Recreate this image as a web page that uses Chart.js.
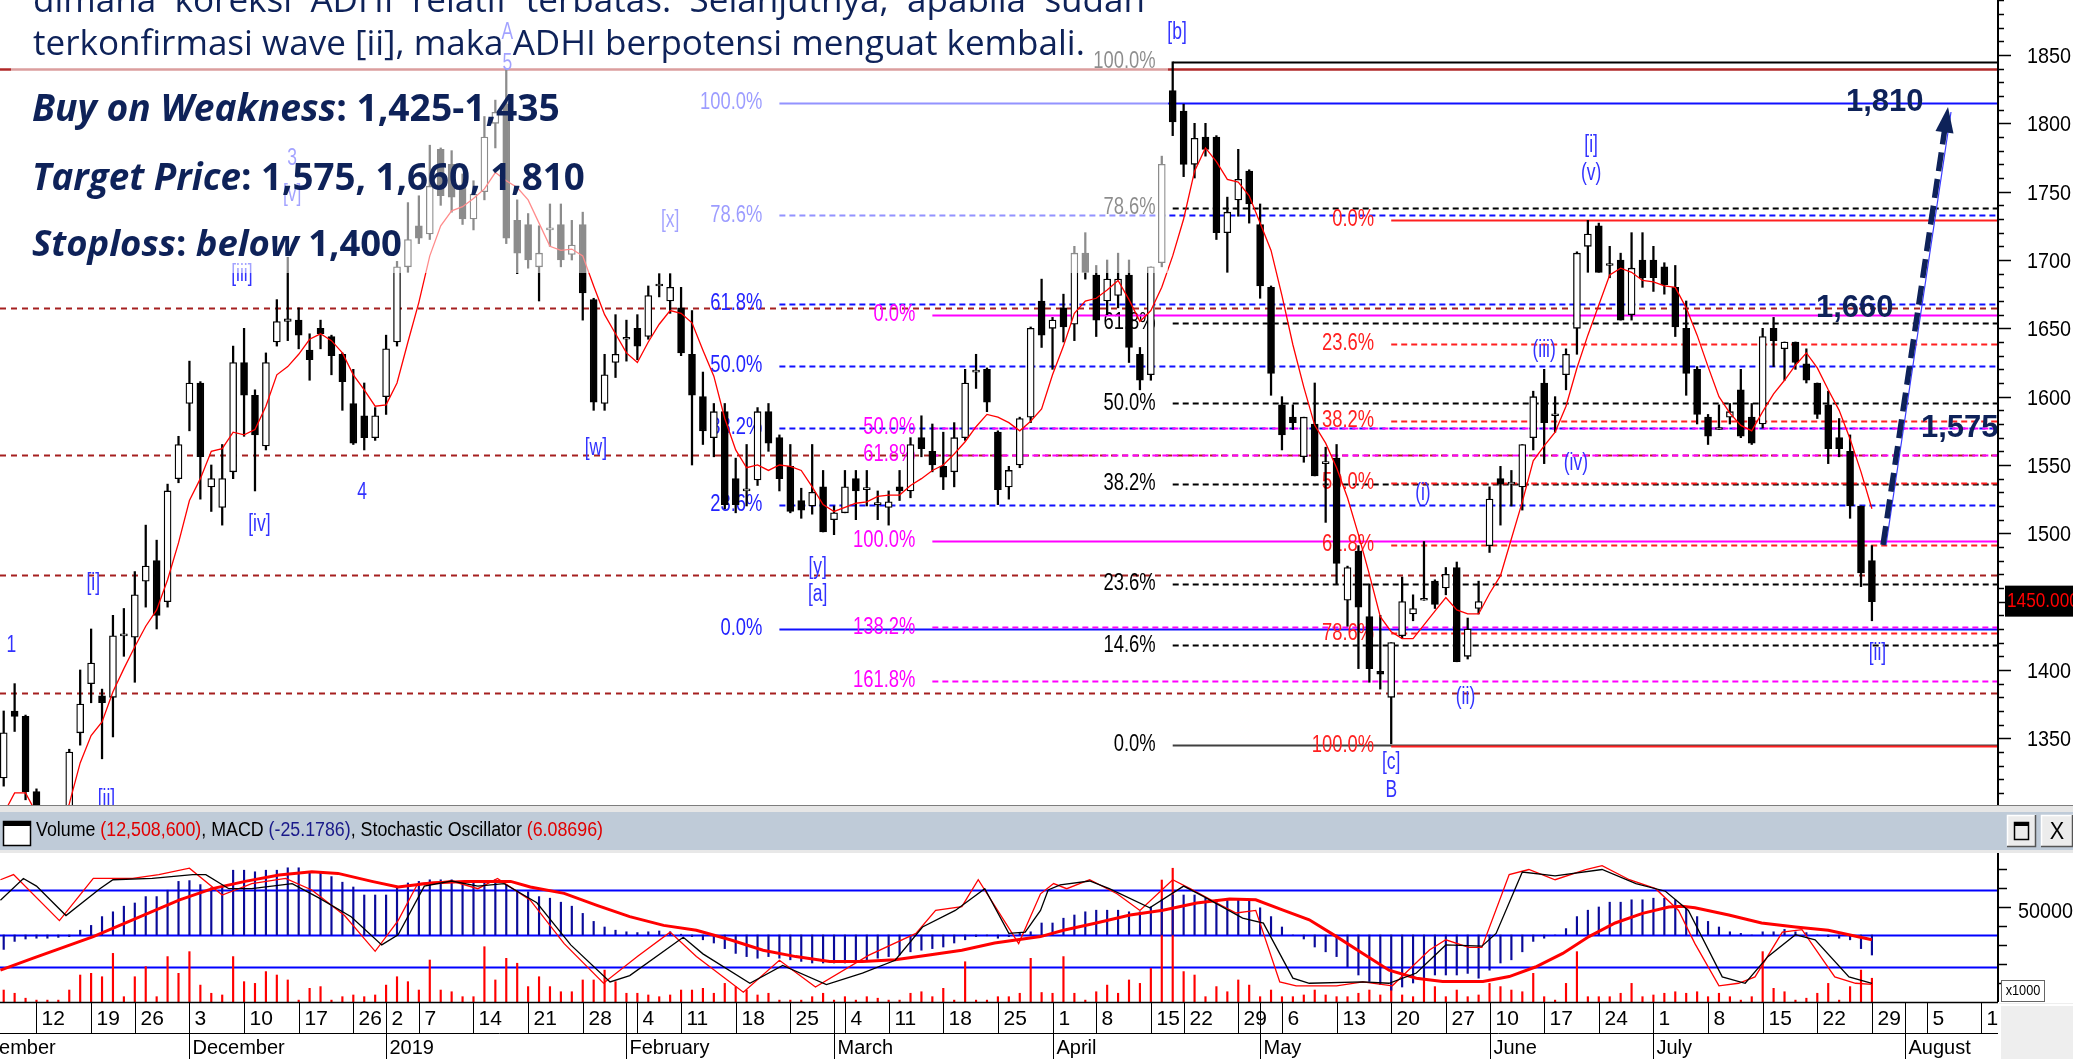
<!DOCTYPE html>
<html><head><meta charset="utf-8">
<script src="https://cdn.jsdelivr.net/npm/chart.js@4.4.1/dist/chart.umd.min.js"></script>
<style>
html,body{margin:0;padding:0;background:#fff;width:2073px;height:1059px;overflow:hidden}
#main{position:absolute;left:0;top:0}
#lower{position:absolute;left:0;top:805px}
</style></head><body>
<canvas id="main" width="2073" height="805"></canvas>
<canvas id="lower" width="2073" height="254"></canvas>
<script>
// trading-day index 0 = 7 Nov 2018 ... 171 = 29 Jul 2019
const X_MIN = -0.339, X_MAX = 182.54, AXIS_X = 1998;

const opens = [1321,1370,1366,1311,1262,1255,1285,1354,1390,1381,
1380,1425,1424,1465,1480,1450,1540,1595,1610,1534,
1519,1545,1625,1601,1564,1640,1655,1656,1634,1650,
1644,1631,1595,1586,1570,1600,1640,1695,1725,1719,
1781,1770,1755,1730,1750,1800,1814,1729,1726,1695,
1722,1726,1704,1726,1671,1595,1625,1642,1650,1644,
1681,1670,1665,1631,1600,1570,1589,1540,1531,1539,
1589,1570,1549,1524,1520,1534,1510,1515,1540,1532,
1521,1519,1534,1531,1570,1560,1549,1545,1570,1618,
1620,1574,1534,1550,1585,1670,1650,1665,1653,1705,
1689,1670,1674,1689,1631,1616,1698,1824,1809,1770,
1790,1790,1720,1744,1765,1726,1680,1594,1585,1556,
1580,1551,1555,1451,1487,1439,1399,1380,1425,1441,
1451,1465,1460,1475,1410,1445,1491,1540,1536,1534,
1570,1610,1586,1616,1650,1710,1725,1696,1700,1660,
1700,1700,1695,1680,1650,1620,1585,1576,1585,1605,
1585,1580,1650,1635,1640,1624,1610,1594,1570,1560,
1520,1480];
const highs = [1370,1390,1367,1313,1275,1290,1342,1400,1430,1386,
1440,1445,1472,1506,1495,1536,1571,1626,1611,1550,
1565,1637,1650,1605,1632,1671,1702,1665,1646,1656,
1645,1632,1620,1610,1592,1645,1699,1742,1747,1784,
1782,1780,1763,1758,1805,1817,1840,1744,1734,1725,
1741,1741,1729,1735,1672,1631,1660,1656,1660,1681,
1690,1690,1680,1663,1618,1595,1595,1555,1565,1592,
1595,1572,1565,1533,1565,1546,1520,1546,1546,1546,
1531,1531,1546,1570,1586,1580,1574,1581,1620,1631,
1621,1575,1549,1585,1651,1686,1658,1675,1710,1720,
1696,1700,1705,1700,1636,1695,1776,1845,1814,1800,
1800,1791,1746,1781,1766,1741,1681,1600,1594,1585,
1610,1563,1565,1476,1491,1463,1440,1420,1468,1455,
1494,1466,1475,1479,1438,1465,1534,1549,1546,1565,
1604,1620,1600,1635,1706,1729,1727,1710,1705,1720,
1720,1710,1698,1696,1670,1622,1587,1594,1595,1620,
1595,1650,1658,1640,1640,1635,1610,1604,1584,1572,
1520,1491];
const lows = [1315,1355,1305,1255,1240,1245,1280,1345,1376,1335,
1351,1410,1391,1446,1430,1446,1537,1575,1525,1516,
1506,1540,1571,1531,1561,1637,1641,1635,1612,1635,
1616,1590,1565,1561,1568,1587,1637,1691,1712,1715,
1740,1735,1726,1722,1744,1782,1712,1690,1694,1670,
1710,1695,1700,1656,1590,1590,1614,1626,1627,1642,
1673,1661,1630,1550,1565,1556,1518,1515,1520,1535,
1560,1531,1515,1511,1514,1501,1499,1515,1510,1520,
1510,1506,1524,1526,1556,1545,1532,1534,1568,1606,
1589,1521,1525,1548,1581,1636,1620,1640,1641,1686,
1644,1660,1665,1625,1605,1612,1695,1791,1761,1760,
1776,1715,1691,1732,1727,1672,1601,1561,1576,1552,
1542,1508,1463,1432,1401,1391,1386,1346,1423,1436,
1451,1445,1455,1406,1408,1441,1486,1506,1520,1517,
1561,1551,1574,1605,1631,1691,1691,1687,1656,1656,
1680,1677,1675,1644,1601,1580,1565,1576,1580,1570,
1565,1577,1622,1612,1620,1610,1584,1551,1556,1511,
1461,1436];
const closes = [1354,1366,1311,1265,1250,1280,1340,1375,1405,1376,
1425,1426,1455,1476,1440,1531,1565,1610,1556,1540,
1540,1625,1601,1572,1625,1655,1657,1645,1627,1646,
1630,1611,1566,1570,1586,1635,1695,1715,1716,1754,
1747,1746,1730,1748,1790,1808,1716,1705,1700,1705,
1723,1700,1711,1676,1596,1616,1631,1643,1637,1674,
1682,1680,1632,1601,1575,1589,1521,1521,1532,1589,
1566,1540,1516,1517,1530,1501,1515,1534,1531,1533,
1521,1523,1531,1565,1562,1550,1541,1570,1610,1619,
1596,1532,1546,1584,1650,1645,1656,1651,1705,1691,
1656,1686,1686,1636,1612,1695,1770,1801,1770,1789,
1781,1720,1735,1759,1741,1681,1617,1572,1581,1585,
1542,1552,1478,1475,1446,1401,1397,1420,1450,1445,
1452,1448,1470,1406,1430,1450,1525,1536,1537,1565,
1600,1581,1587,1631,1705,1719,1691,1697,1656,1694,
1687,1687,1682,1651,1617,1587,1571,1576,1589,1571,
1566,1644,1641,1640,1625,1612,1587,1562,1562,1520,
1471,1450];
const ma5 = [1295,1310,1310,1295,1285,1280,1302,1332,1352,1362,
1384,1401,1417,1432,1444,1466,1493,1524,1540,1560,
1562,1574,1572,1576,1593,1616,1622,1631,1642,1646,
1641,1632,1616,1605,1593,1594,1610,1640,1669,1703,
1725,1736,1739,1745,1752,1764,1758,1753,1744,1727,
1710,1707,1708,1703,1681,1660,1646,1632,1625,1640,
1653,1663,1661,1654,1634,1615,1584,1561,1548,1550,
1546,1550,1549,1546,1534,1521,1516,1519,1522,1523,
1527,1528,1528,1535,1540,1546,1550,1558,1567,1578,
1587,1585,1581,1575,1582,1591,1616,1637,1661,1670,
1672,1678,1685,1671,1655,1663,1680,1703,1730,1765,
1782,1772,1759,1757,1747,1727,1707,1674,1638,1607,
1579,1566,1548,1526,1499,1470,1439,1428,1423,1423,
1433,1443,1453,1444,1441,1441,1456,1469,1496,1523,
1553,1564,1574,1593,1621,1645,1667,1689,1694,1691,
1685,1684,1681,1680,1665,1645,1622,1600,1588,1579,
1575,1589,1602,1612,1623,1632,1621,1605,1590,1569,
1545,1518];

// volume in thousands of shares
const volume = [6300,4600,2000,1000,1000,1000,6300,14200,15100,13300,
25600,2800,13300,18600,2800,23900,15100,26500,8900,4600,
3700,23900,10700,9800,16000,14200,11600,1000,7200,8100,
1000,2800,3700,2800,3700,8900,13300,10700,6300,22100,
6300,5400,2800,2800,29100,11600,23000,20400,8100,13300,
8100,5400,5400,11600,11600,16800,10700,4600,4600,3700,
2800,3700,6300,6300,7200,4600,9800,8100,6300,3700,
4600,1000,1000,1000,2800,4600,1000,2800,1000,2800,
2000,1000,1000,4600,5400,2800,7200,1000,21200,1000,
1000,2800,2800,4600,23000,5000,4600,23900,4600,1000,
5400,8900,4600,11600,9800,17700,64200,70400,16000,14200,
2800,8100,5400,11600,8900,2800,6300,2800,2800,3700,
6300,3700,2800,2800,4600,6300,3700,9800,3700,2800,
11600,8100,2800,6300,2800,3700,9800,8100,6300,5400,
15100,2800,1000,9800,26500,2800,2800,2800,4600,9800,
2800,3700,4600,5400,4600,5400,2800,4600,2800,1000,
2800,26500,7200,5400,1000,2000,4600,9800,1000,8100,
16800,12509];
const macd = [-18,-8,-5,-4,-4,-3,-2,6,12,23,
29,36,40,48,48,56,67,68,63,59,
60,81,81,79,81,81,84,84,79,79,
73,66,60,50,50,50,60,65,67,69,
69,69,65,65,67,69,63,56,54,48,
46,41,36,27,17,10,6,4,3,4,
5,4,1,-2,-6,-10,-17,-23,-27,-29,
-27,-29,-31,-33,-35,-35,-35,-35,-33,-31,
-29,-27,-25,-21,-19,-17,-15,-10,-6,-2,
-1,-4,-2,2,4,15,15,21,25,29,
31,31,31,29,29,35,44,50,50,50,
46,44,44,44,44,34,23,10,0,-5,
-15,-21,-27,-40,-50,-58,-62,-69,-65,-60,
-54,-50,-50,-50,-48,-54,-44,-35,-31,-21,
-8,-4,0,8,23,31,35,41,41,44,
44,46,46,44,35,23,17,10,4,2,
0,4,4,7,4,3,0,-2,-4,-6,
-17,-25];
const signalPts = [[-0.3,-44],[2.7,-29],[8.2,-2],[11.8,19],[16.1,44],[19.1,58],[22.1,67],[25.2,75],[28.2,79],[30.6,77],
[33.7,67],[36.1,60],[39.1,65],[42.2,67],[46.4,67],[48.2,60],[51.3,52],[54.3,37],[57.3,23],[60.4,12],
[63.4,6],[66.5,-6],[69.5,-19],[72.5,-27],[75.6,-33],[78.6,-33],[81.6,-31],[84.7,-25],[87.7,-19],[90.7,-10],
[94.9,-2],[97,6],[100,15],[103.1,25],[106.1,31],[109.2,40],[112.2,45],[114.6,44],[117.1,31],[119.5,19],
[122,-2],[124.4,-23],[126.8,-44],[129.3,-54],[131.7,-58],[135.4,-58],[137.8,-52],[140.2,-40],[142.7,-23],[145.1,-2],
[147.5,15],[150,27],[152.4,35],[153.6,36],[154.8,34],[157.9,25],[160.9,15],[164,10],[167,6],[171,-6]];
const stochK = [[-0.3,88],[0.9,92],[5.1,56],[8.2,89],[11.8,89],[14.2,92],[17,97],[20,76],[22.7,85],[25.8,89],
[28.2,80],[31.2,60],[34,32],[36.1,56],[37.9,85],[41,87],[43.4,81],[45.2,89],[48.2,72],[51.3,38],
[54.9,7],[58,28],[61,47],[63.4,28],[67.7,0],[71,25],[74.3,4],[79.2,29],[83.5,46],[85.3,64],
[87.7,67],[89.2,88],[92.9,38],[94.9,77],[96.1,85],[97.3,81],[99.4,88],[101.9,77],[104,64],[107,88],
[108.6,81],[111,70],[112.8,62],[114.6,64],[116.8,8],[118.3,5],[122,5],[124.4,8],[127.1,5],[130.5,33],
[132,41],[134.1,35],[135.3,35],[137.8,92],[139.6,96],[142,88],[144.8,96],[146.3,99],[148.8,88],[151.2,81],
[153.3,64],[154.8,38],[157,5],[158.8,7],[160.3,12],[162.8,47],[164.6,49],[167.6,12],[169.5,7],[171,6.1]];
const stochD = [[-0.3,72],[1.8,89],[3,83],[5.7,60],[8.8,81],[10,88],[13.6,89],[17.3,92],[18.5,92],[20.6,81],
[22.7,81],[26.4,85],[28.8,74],[31.8,59],[34.6,37],[36.1,45],[38.5,83],[41,87],[43.4,83],[45.8,85],
[48.8,70],[51.9,37],[55.5,8],[57.3,13],[62.2,43],[64,30],[68.3,7],[71.3,21],[75.3,6],[78.6,15],
[81.6,25],[84.1,51],[87.1,64],[89.8,81],[92,46],[93.5,47],[94.9,64],[95.6,80],[96.7,84],[99.4,87],
[101.2,81],[104.9,66],[108,83],[109.8,75],[113.4,58],[115.3,54],[118,11],[119.5,7],[124.4,8],[126.8,7],
[129.3,15],[132,37],[135.3,36],[136.6,46],[139,94],[142,91],[146.3,96],[149.4,85],[152.1,79],[154.2,64],
[157.3,12],[159.4,7],[161.5,28],[164,45],[165.8,41],[168.9,12],[171,7]];

// date axis
const weekIdx = [3,8,12,17,22,27,32,35,38,43,48,53,58,62,67,72,77,81,86,91,96,100,105,108,113,117,122,127,132,136,141,146,151,156,161,166,171,176,181];
const weekDay = ['12','19','26','3','10','17','26','2','7','14','21','28','4','11','18','25','4','11','18','25','1','8','15','22','29','6','13','20','27','10','17','24','1','8','15','22','29','5','12'];
const monthIdx = [-4,17,35,57,76,96,115,136,151,174];
const monthName = ['November','December','2019','February','March','April','May','June','July','August'];

// fibonacci sets: levels, price at 0%, price at 100%, start index
const fibBlueLevels = [0,23.6,38.2,50,61.8,78.6,100];
const fibMagentaLevels = [0,50,61.8,100,138.2,161.8];
const fibBlackLevels = [0,14.6,23.6,38.2,50,61.8,78.6,100];
const fibRedLevels = [0,23.6,38.2,50,61.8,78.6,100];
const supportLines = [1664.7,1557.3,1469.5,1382.9];
const topLine = 1839.5;

const waveLabels = [['A',46.1,1866],['5',46.1,1844],['3',26.4,1774],['[v]',26.4,1748],['[iii]',21.8,1689],['[x]',61,1729],
['1',0.7,1418],['[i]',8.2,1463],['[ii]',9.4,1305],['[iv]',23.4,1506],['4',32.8,1530],['[w]',54.2,1562],
['[y]',74.5,1475],['[a]',74.5,1455],['[b]',107.4,1866],['[c]',127,1332],['B',127,1312],
['(i)',129.9,1529],['(ii)',133.8,1380],['(iii)',141,1634],['(iv)',143.9,1551],['[i]',145.3,1784],['(v)',145.3,1763],['[ii]',171.5,1412]];

const idxs = closes.map((c, i) => i);
const NAVY = '#0e2259';

function sText(ctx, t, x, y, size, sx, color, align, weight) {
  ctx.save();
  ctx.font = (weight ? weight + ' ' : '') + size + 'px "Liberation Sans", Arial, sans-serif';
  ctx.fillStyle = color;
  ctx.textAlign = align || 'left';
  ctx.textBaseline = 'middle';
  ctx.translate(x, y);
  ctx.scale(sx, 1);
  ctx.fillText(t, 0, 0);
  ctx.restore();
}

function hline(ctx, y, x0, x1, color, w, dash) {
  ctx.save();
  ctx.strokeStyle = color; ctx.lineWidth = w;
  ctx.setLineDash(dash || []);
  ctx.beginPath(); ctx.moveTo(x0, Math.round(y) + 0.5); ctx.lineTo(x1, Math.round(y) + 0.5); ctx.stroke();
  ctx.restore();
}

function drawFib(ctx, xs, ys, levels, p0, p100, start, lineCol, labCol, solid0) {
  const x0 = xs.getPixelForValue(start);
  levels.forEach(L => {
    const p = p0 + (p100 - p0) * L / 100;
    const y = ys.getPixelForValue(p);
    const solid = (L === 0 || L === 100);
    hline(ctx, y, x0, AXIS_X, solid ? (L === 0 && solid0 ? solid0 : lineCol) : lineCol, 2, solid ? [] : [6, 4]);
    sText(ctx, L.toFixed(1) + '%', x0 - 17, y, 23, 0.8, labCol, 'right');
  });
}

function richLine(ctx, segs, x, y, targetW) {
  const fam = '"Open Sans", "Noto Sans", sans-serif';
  const f = (it, s) => (it ? 'italic ' : '') + 'bold ' + s + 'px ' + fam;
  let w = 0;
  segs.forEach(s => { ctx.font = f(s[1], 34); w += ctx.measureText(s[0]).width; });
  const size = 34 * targetW / w;
  let cx = x;
  ctx.fillStyle = NAVY;
  ctx.textBaseline = 'alphabetic';
  segs.forEach(s => { ctx.font = f(s[1], size); ctx.fillText(s[0], cx, y); cx += ctx.measureText(s[0]).width; });
}

const mainPlugin = {
  id: 'mainDecor',
  beforeDatasetsDraw(chart) {
    const ctx = chart.ctx, xs = chart.scales.x, ys = chart.scales.y;
    hline(ctx, ys.getPixelForValue(topLine), 0, AXIS_X, '#b02828', 2.5);
    supportLines.forEach(p => hline(ctx, ys.getPixelForValue(p), 0, AXIS_X, '#a52020', 2, [6, 5]));
    drawFib(ctx, xs, ys, fibBlackLevels, 1345, 1845, 107, '#000000', '#000000', '#404040');
    drawFib(ctx, xs, ys, fibBlueLevels, 1430, 1815, 71, '#1010ff', '#2424ff');
    drawFib(ctx, xs, ys, fibMagentaLevels, 1660, 1494.4, 85, '#ff00ff', '#ff00ff');
    drawFib(ctx, xs, ys, fibRedLevels, 1729.3, 1344.6, 127, '#ff2020', '#ff2020');
  },
  afterDatasetsDraw(chart) {
    const ctx = chart.ctx, xs = chart.scales.x, ys = chart.scales.y;
    waveLabels.forEach(w => sText(ctx, w[0], xs.getPixelForValue(w[1]), ys.getPixelForValue(w[2]), 23, 0.76, '#3232ff', 'center'));
    // translucent text box of the slide
    ctx.fillStyle = 'rgba(255,255,255,0.55)';
    ctx.fillRect(11, 0, 1157, 273);

    // paragraph
    ctx.save();
    const fam = '"Open Sans", "Noto Sans", sans-serif';
    ctx.font = '34px ' + fam;
    const line2 = 'terkonfirmasi wave [ii], maka ADHI berpotensi menguat kembali.';
    const size = 34 * 1052 / ctx.measureText(line2).width;
    ctx.font = size.toFixed(2) + 'px ' + fam;
    ctx.fillStyle = NAVY;
    ctx.textBaseline = 'alphabetic';
    ctx.fillText(line2, 33, 55);
    const words = ['dimana','koreksi','ADHI','relatif','terbatas.','Selanjutnya,','apabila','sudah'];
    let tw = 0; words.forEach(w => tw += ctx.measureText(w).width);
    const gap = (1145 - 33 - tw) / (words.length - 1);
    let wx = 33;
    words.forEach(w => { ctx.fillText(w, wx, 12); wx += ctx.measureText(w).width + gap; });
    richLine(ctx, [['Buy on Weakness', true], [': 1,425-1,435', false]], 32, 121, 528);
    richLine(ctx, [['Target Price', true], [': 1,575, 1,660, 1,810', false]], 32, 190, 553);
    richLine(ctx, [['Stoploss', true], [': ', false], ['below', true], [' 1,400', false]], 32, 256, 370);
    ctx.restore();

    // target labels
    ctx.save();
    ctx.fillStyle = NAVY;
    ctx.font = 'bold 31px "Liberation Sans", Arial, sans-serif';
    ctx.textBaseline = 'alphabetic';
    ctx.fillText('1,810', 1846, 111);
    ctx.fillText('1,660', 1816, 317);
    ctx.fillText('1,575', 1921, 437);
    // thin trend line and dashed arrow
    ctx.strokeStyle = '#3a3aff'; ctx.lineWidth = 1.2;
    ctx.beginPath(); ctx.moveTo(1886, 545); ctx.lineTo(1951, 112); ctx.stroke();
    ctx.strokeStyle = NAVY; ctx.lineWidth = 5.5; ctx.setLineDash([19, 8]);
    ctx.beginPath(); ctx.moveTo(1883, 545); ctx.lineTo(1944.5, 131); ctx.stroke();
    ctx.setLineDash([]);
    ctx.beginPath(); ctx.moveTo(1948, 107); ctx.lineTo(1935.5, 131); ctx.lineTo(1953.5, 133.5); ctx.closePath(); ctx.fill();
    ctx.restore();

    // right price axis
    ctx.save();
    ctx.fillStyle = '#fff';
    ctx.fillRect(AXIS_X, 0, 2073 - AXIS_X, 805);
    ctx.strokeStyle = '#000'; ctx.lineWidth = 2;
    ctx.beginPath(); ctx.moveTo(AXIS_X, 0); ctx.lineTo(AXIS_X, 805); ctx.stroke();
    ctx.lineWidth = 1.5;
    for (let p = 1310; p <= 1890; p += 10) {
      const y = Math.round(ys.getPixelForValue(p)) + 0.5;
      const len = p % 50 === 0 ? 13 : 6;
      ctx.beginPath(); ctx.moveTo(AXIS_X, y); ctx.lineTo(AXIS_X + len, y); ctx.stroke();
      if (p % 50 === 0) sText(ctx, String(p), 2027, y + 1, 22, 0.9, '#000', 'left');
    }
    const yl = ys.getPixelForValue(closes[closes.length - 1]);
    ctx.fillStyle = '#000';
    ctx.fillRect(2005, yl - 16, 68, 31);
    sText(ctx, closes[closes.length - 1].toFixed(3), 2007, yl, 21, 0.82, '#ff0000', 'left');
    ctx.restore();
  }
};

new Chart(document.getElementById('main'), {
  type: 'bar',
  data: {
    datasets: [
      {
        type: 'line', data: idxs.map(i => ({x: i, y: ma5[i]})),
        borderColor: '#ff0000', borderWidth: 1.3, pointRadius: 0, tension: 0, order: 1
      },
      {
        data: idxs.map(i => ({x: i, y: [opens[i], closes[i]]})),
        backgroundColor: c => (closes[c.dataIndex] >= opens[c.dataIndex] ? '#ffffff' : '#000000'),
        borderColor: '#000000', borderWidth: 1.3, borderSkipped: false,
        barThickness: 7, minBarLength: 2, grouped: false, order: 2
      },
      {
        data: idxs.map(i => ({x: i, y: [lows[i], highs[i]]})),
        backgroundColor: '#000000', borderWidth: 0,
        barThickness: 1.6, grouped: false, order: 3
      }
    ]
  },
  options: {
    responsive: false, animation: false, events: [],
    layout: {padding: {left: 0, right: 2073 - AXIS_X, top: 0, bottom: 0}},
    scales: {
      x: {type: 'linear', min: X_MIN, max: X_MAX, display: false, offset: false},
      y: {type: 'linear', min: 1301.2, max: 1890.25, display: false}
    },
    plugins: {legend: {display: false}, tooltip: {enabled: false}}
  },
  plugins: [mainPlugin]
});

const lowerPlugin = {
  id: 'lowerDecor',
  beforeDatasetsDraw(chart) {
    const ctx = chart.ctx, st = chart.scales.st, md = chart.scales.macd;
    hline(ctx, st.getPixelForValue(80), 0, AXIS_X, '#0000ff', 2);
    hline(ctx, st.getPixelForValue(20), 0, AXIS_X, '#0000ff', 2);
    hline(ctx, md.getPixelForValue(0), 0, AXIS_X, '#0000ff', 2);
  },
  afterDraw(chart) {
    const ctx = chart.ctx, xs = chart.scales.x, vs = chart.scales.vol;
    const top = 48, bot = 197;
    ctx.save();
    // header bar
    ctx.fillStyle = '#7d7d7d'; ctx.fillRect(0, 0, 2073, 1);
    ctx.fillStyle = '#e6e6e6'; ctx.fillRect(0, 1, 2073, 6);
    ctx.fillStyle = '#bfcbd8'; ctx.fillRect(0, 7, 2073, 38);
    ctx.fillStyle = '#e8e8e8'; ctx.fillRect(0, 45, 2073, 3);
    // window icon
    ctx.fillStyle = '#fff'; ctx.fillRect(3, 16, 28, 25);
    ctx.strokeStyle = '#000'; ctx.lineWidth = 1.5; ctx.strokeRect(3.5, 16.5, 27, 24);
    ctx.fillStyle = '#000'; ctx.fillRect(3, 16, 28, 5);
    // header text
    const segs = [['Volume ', '#000'], ['(12,508,600)', '#e00000'], [', MACD ', '#000'], ['(-25.1786)', '#1a1a8a'], [', Stochastic Oscillator ', '#000'], ['(6.08696)', '#e00000']];
    ctx.font = '20px "Liberation Sans", Arial, sans-serif';
    let w = 0; segs.forEach(s => w += ctx.measureText(s[0]).width);
    const sx = 567 / w;
    ctx.translate(36, 31); ctx.scale(sx, 1);
    ctx.textBaseline = 'alphabetic';
    let cx = 0;
    segs.forEach(s => { ctx.fillStyle = s[1]; ctx.fillText(s[0], cx, 0); cx += ctx.measureText(s[0]).width; });
    ctx.setTransform(1, 0, 0, 1, 0, 0);
    // buttons
    [[2007, 29], [2041, 32]].forEach((b, k) => {
      ctx.fillStyle = '#ececec'; ctx.fillRect(b[0], 10, b[1], 32);
      ctx.strokeStyle = '#ffffff'; ctx.lineWidth = 1.5;
      ctx.beginPath(); ctx.moveTo(b[0] + 0.5, 41); ctx.lineTo(b[0] + 0.5, 10.5); ctx.lineTo(b[0] + b[1], 10.5); ctx.stroke();
      ctx.strokeStyle = '#555'; ctx.beginPath(); ctx.moveTo(b[0] + b[1] - 0.5, 10); ctx.lineTo(b[0] + b[1] - 0.5, 41.5); ctx.lineTo(b[0], 41.5); ctx.stroke();
      if (k === 0) {
        ctx.strokeStyle = '#000'; ctx.lineWidth = 1.5; ctx.strokeRect(b[0] + 7.5, 17.5, 14, 17);
        ctx.fillStyle = '#000'; ctx.fillRect(b[0] + 7, 17, 15, 4);
      } else {
        sText(ctx, 'X', b[0] + b[1] / 2, 27, 24, 0.9, '#000', 'center');
      }
    });
    // right axis of indicator panel
    ctx.strokeStyle = '#000'; ctx.lineWidth = 2;
    ctx.beginPath(); ctx.moveTo(AXIS_X, top); ctx.lineTo(AXIS_X, bot); ctx.stroke();
    ctx.lineWidth = 1.5;
    for (let v = 10000; v <= 70000; v += 10000) {
      const y = Math.round(vs.getPixelForValue(v)) + 0.5;
      ctx.beginPath(); ctx.moveTo(AXIS_X, y); ctx.lineTo(AXIS_X + (v === 50000 ? 13 : 9), y); ctx.stroke();
    }
    sText(ctx, '50000', 2018, vs.getPixelForValue(50000) + 5, 22, 0.9, '#000', 'left');
    ctx.fillStyle = '#fff'; ctx.fillRect(2001, 175, 44, 22);
    ctx.strokeStyle = '#666'; ctx.lineWidth = 1; ctx.strokeRect(2001.5, 175.5, 43, 21);
    sText(ctx, 'x1000', 2023, 186, 15, 0.85, '#000', 'center');
    // date axis
    ctx.fillStyle = '#fff'; ctx.fillRect(0, bot, AXIS_X, 254 - bot);
    ctx.strokeStyle = '#000';
    ctx.lineWidth = 1.5;
    ctx.beginPath(); ctx.moveTo(0, bot + 0.5); ctx.lineTo(AXIS_X, bot + 0.5); ctx.stroke();
    ctx.lineWidth = 1;
    ctx.beginPath(); ctx.moveTo(0, 228.5); ctx.lineTo(AXIS_X, 228.5); ctx.stroke();
    weekIdx.forEach((d, k) => {
      const x = Math.round(xs.getPixelForValue(d)) + 0.5;
      ctx.strokeStyle = '#000'; ctx.lineWidth = 1;
      ctx.beginPath(); ctx.moveTo(x, bot); ctx.lineTo(x, 228); ctx.stroke();
      sText(ctx, weekDay[k], x + 5, 214, 21, 1, '#000', 'left');
    });
    monthIdx.forEach((d, k) => {
      const x = Math.round(xs.getPixelForValue(d)) + 0.5;
      ctx.strokeStyle = '#000'; ctx.lineWidth = 1;
      ctx.beginPath(); ctx.moveTo(x, bot); ctx.lineTo(x, 254); ctx.stroke();
      sText(ctx, monthName[k], x + 3, 243, 20, 1, '#000', 'left');
    });
    ctx.fillStyle = '#eeeeee'; ctx.fillRect(AXIS_X + 1, bot + 1, 2073 - AXIS_X, 254 - bot);
    ctx.strokeStyle = '#fff'; ctx.lineWidth = 2;
    ctx.beginPath(); ctx.moveTo(AXIS_X + 2, 254); ctx.lineTo(AXIS_X + 2, bot + 3); ctx.lineTo(2073, bot + 3); ctx.stroke();
    ctx.restore();
  }
};

new Chart(document.getElementById('lower'), {
  type: 'bar',
  data: {
    datasets: [
      {type: 'line', yAxisID: 'st', data: stochD.map(p => ({x: p[0], y: p[1]})), borderColor: '#000000', borderWidth: 1.3, pointRadius: 0, tension: 0, order: 1},
      {type: 'line', yAxisID: 'st', data: stochK.map(p => ({x: p[0], y: p[1]})), borderColor: '#ff0000', borderWidth: 1.3, pointRadius: 0, tension: 0, order: 2},
      {type: 'line', yAxisID: 'macd', data: signalPts.map(p => ({x: p[0], y: p[1]})), borderColor: '#ff0000', borderWidth: 3, pointRadius: 0, tension: 0, order: 3},
      {yAxisID: 'macd', data: idxs.map(i => ({x: i, y: [0, macd[i]]})), backgroundColor: '#0a0a9a', borderWidth: 0, barThickness: 1.5, grouped: false, order: 4},
      {yAxisID: 'vol', data: idxs.map(i => ({x: i, y: volume[i]})), backgroundColor: '#ff0000', borderWidth: 0, barThickness: 1.5, grouped: false, order: 5}
    ]
  },
  options: {
    responsive: false, animation: false, events: [],
    layout: {padding: {left: 0, right: 2073 - AXIS_X, top: 48, bottom: 57}},
    scales: {
      x: {type: 'linear', min: X_MIN, max: X_MAX, display: false, offset: false},
      st: {type: 'linear', min: -7.67, max: 108.92, display: false},
      macd: {type: 'linear', min: -83.75, max: 102.5, display: false},
      vol: {type: 'linear', min: 0, max: 78421, display: false}
    },
    plugins: {legend: {display: false}, tooltip: {enabled: false}}
  },
  plugins: [lowerPlugin]
});
</script></body></html>
